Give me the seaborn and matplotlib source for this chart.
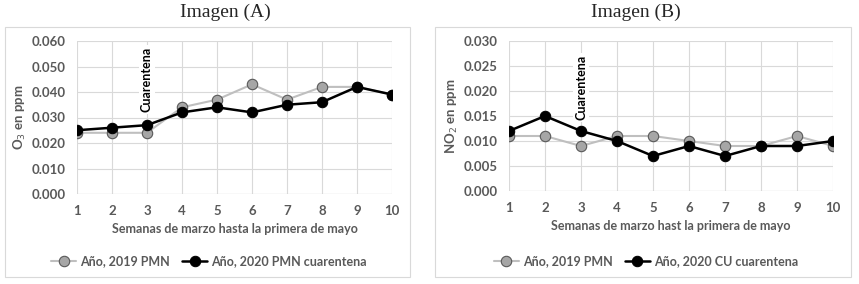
import numpy as np
import pandas as pd
import seaborn as sns
import matplotlib.pyplot as plt
from matplotlib.patches import Rectangle

sns.set_style('white')
plt.rcParams['font.family'] = ['Lato', 'DejaVu Sans']

# datos
semanas = list(range(1, 11))
o3_2019 = [0.024, 0.024, 0.024, 0.034, 0.037, 0.043, 0.037, 0.042, 0.042, 0.039]
o3_2020 = [0.025, 0.026, 0.027, 0.032, 0.034, 0.032, 0.035, 0.036, 0.042, 0.039]
no2_2019 = [0.011, 0.011, 0.009, 0.011, 0.011, 0.010, 0.009, 0.009, 0.011, 0.009]
no2_2020 = [0.012, 0.015, 0.012, 0.010, 0.007, 0.009, 0.007, 0.009, 0.009, 0.010]

gris = '#595959'

fig = plt.figure(figsize=(8.59, 2.84), dpi=100)

# marcos de cada imagen
for x0, w in [(5 / 859, 405 / 859), (435 / 859, 416 / 859)]:
    fig.patches.append(Rectangle((x0, 7 / 284), w, 250 / 284, transform=fig.transFigure,
                                 fill=False, edgecolor='#d9d9d9', lw=0.8))

fig.text(0.262, 0.958, 'Imagen (A)', ha='center', va='center', fontsize=14,
         family='Liberation Serif')
fig.text(0.740, 0.958, 'Imagen (B)', ha='center', va='center', fontsize=14,
         family='Liberation Serif')

ax1 = fig.add_axes([77 / 859, 1 - 194 / 284, 315 / 859, 153 / 284])
ax2 = fig.add_axes([509 / 859, 1 - 191 / 284, 324 / 859, 150 / 284])

paneles = [
    (ax1, o3_2019, o3_2020, 0.060, 0.010, 'O$_3$ en ppm',
     'Semanas de marzo hasta la primera de mayo', 'Año, 2020 PMN cuarentena', 0.045, 0.243),
    (ax2, no2_2019, no2_2020, 0.030, 0.005, 'NO$_2$ en ppm',
     'Semanas de marzo hast la primera de mayo', 'Año, 2020 CU cuarentena', 0.0207, 0.752),
]

for ax, s19, s20, ymax, paso, ylab, xlab, lab20, ytxt, xleg in paneles:
    df = pd.DataFrame({'semana': semanas, 's19': s19, 's20': s20})
    sns.lineplot(data=df, x='semana', y='s19', ax=ax, color='#bfbfbf', lw=1.5,
                 marker='o', markersize=7.5, markerfacecolor='#a6a6a6',
                 markeredgecolor='#595959', markeredgewidth=0.8, label='Año, 2019 PMN',
                 zorder=3)
    sns.lineplot(data=df, x='semana', y='s20', ax=ax, color='black', lw=1.8,
                 marker='o', markersize=7.5, markerfacecolor='black',
                 markeredgecolor='black', label=lab20, zorder=4)
    ax.set_xlim(1, 10)
    ax.set_ylim(0, ymax)
    ax.set_xticks(semanas)
    ax.set_yticks(np.arange(0, ymax + paso / 2, paso))
    ax.set_yticklabels([f'{v:.3f}' for v in np.arange(0, ymax + paso / 2, paso)])
    ax.grid(True, color='#d9d9d9', lw=0.8)
    ax.set_axisbelow(True)
    for s in ax.spines.values():
        s.set_visible(False)
    ax.axhline(0, color='#bfbfbf', lw=0.8, zorder=1)
    ax.tick_params(axis='both', colors=gris, labelsize=9.5, length=0, pad=8)
    for t in ax.get_xticklabels() + ax.get_yticklabels():
        t.set_fontweight('bold')
    ax.set_xlabel(xlab, color=gris, fontsize=9, fontweight='bold', labelpad=4)
    ax.set_ylabel(ylab, color=gris, fontsize=9.5, fontweight='bold', labelpad=3)
    ax.text(3, ytxt, 'Cuarentena', rotation=90, ha='center', va='center', fontsize=9,
            fontweight='bold', color='black', zorder=5,
            bbox=dict(facecolor='white', edgecolor='none', pad=1.5))
    h, l = ax.get_legend_handles_labels()
    ax.get_legend().remove()
    fig.legend(h, l, loc='center', bbox_to_anchor=(xleg, 1 - 261 / 284), ncol=2,
               frameon=False, handlelength=2.0, columnspacing=1.0,
               handletextpad=0.3, labelcolor=gris,
               prop={'weight': 'bold', 'size': 9})

fig.savefig('out.png', dpi=100)
